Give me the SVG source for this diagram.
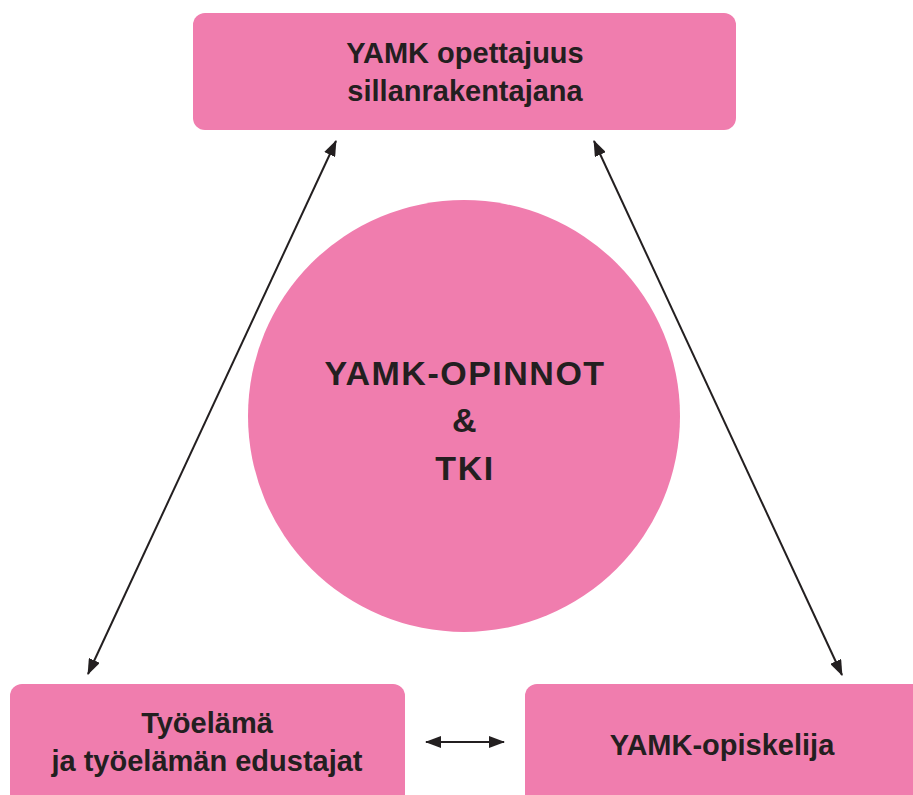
<svg xmlns="http://www.w3.org/2000/svg" width="913" height="795" viewBox="0 0 913 795">
<style>
.box{fill:#F07DAE}
.t{font-family:"Liberation Sans",Arial,sans-serif;font-weight:bold;fill:#231F20;text-anchor:middle}
.lbl{font-size:29px}
.big{font-size:34px;letter-spacing:1.5px}
.con{stroke:#231F20;stroke-width:2;fill:none}
</style>
<defs>
<marker id="ah" viewBox="0 0 16 12" refX="15" refY="6" markerWidth="16" markerHeight="12" markerUnits="userSpaceOnUse" orient="auto-start-reverse">
<path d="M0,0 L16,6 L0,12 Z" fill="#231F20"/>
</marker>
</defs>
<rect width="913" height="795" fill="#fff"/>
<g id="connectors">
<line class="con" x1="336" y1="141" x2="88" y2="674" marker-start="url(#ah)" marker-end="url(#ah)"/>
<line class="con" x1="594" y1="141" x2="842" y2="675" marker-start="url(#ah)" marker-end="url(#ah)"/>
<line class="con" x1="426" y1="742" x2="504" y2="742" marker-start="url(#ah)" marker-end="url(#ah)"/>
</g>
<g id="top">
<rect class="box" x="193" y="13" width="543" height="117" rx="12"/>
<text class="t lbl" x="465" y="63">YAMK opettajuus</text>
<text class="t lbl" x="465" y="101">sillanrakentajana</text>
</g>
<g id="center">
<circle class="box" cx="464" cy="416" r="216"/>
<text class="t big" x="465" y="385">YAMK-OPINNOT</text>
<text class="t big" x="465" y="432">&amp;</text>
<text class="t big" x="465" y="480">TKI</text>
</g>
<g id="bottomleft">
<rect class="box" x="10" y="684" width="395" height="130" rx="12"/>
<text class="t lbl" x="207" y="733">Työelämä</text>
<text class="t lbl" x="207" y="771">ja työelämän edustajat</text>
</g>
<g id="bottomright">
<rect class="box" x="525" y="684" width="400" height="130" rx="12"/>
<text class="t lbl" x="722" y="755">YAMK-opiskelija</text>
</g>
</svg>
